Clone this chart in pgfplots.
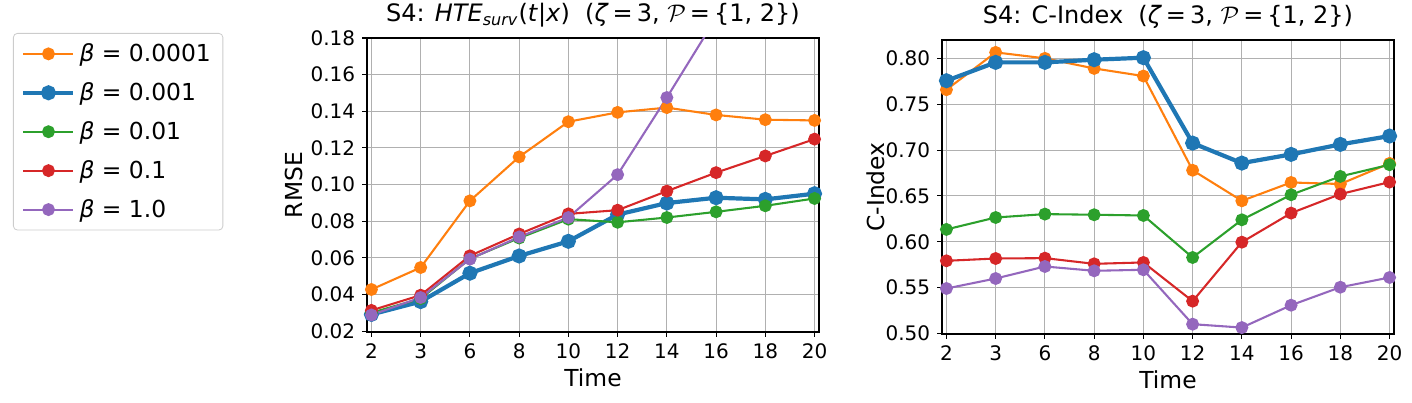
\documentclass[border=0pt]{standalone}
\usepackage{fontspec}
\setmainfont{DejaVu Sans}
\usepackage{pgfplots}
\pgfplotsset{compat=1.18}
\definecolor{cblue}{HTML}{1F77B4}
\definecolor{corange}{HTML}{FF7F0E}
\definecolor{cgreen}{HTML}{2CA02C}
\definecolor{cred}{HTML}{D62728}
\definecolor{cpurple}{HTML}{9467BD}
\definecolor{gridgray}{HTML}{B0B0B0}
\definecolor{legendgray}{HTML}{CCCCCC}
\pgfplotsset{
 mystyle/.style={
  width=226pt, height=147pt, scale only axis,
  xmin=-0.09, xmax=9.09,
  xtick={0,...,9}, xticklabels={2,3,6,8,10,12,14,16,18,20},
  grid=major, major grid style={color=gridgray, line width=0.55pt},
  axis line style={line width=0.55pt},
  tick align=outside, tick pos=left, major tick length=2.4pt,
  every tick/.style={black, line width=0.55pt},
  tick label style={font=\fontsize{10}{12}\selectfont},
  yticklabel style={/pgf/number format/.cd, fixed, fixed zerofill, precision=2, assume math mode=true},
  xticklabel style={/pgf/number format/assume math mode=true},
  label style={font=\fontsize{11.7}{14}\selectfont},
  title style={font=\fontsize{12}{14}\selectfont, inner sep=0pt, at={(axis description cs:0.5,1.014)}, anchor=base},
  xlabel=Time,
  xlabel style={at={(axis description cs:0.5,-0.155)}, anchor=center},
  every axis plot/.append style={line width=1.04pt, mark=*, mark size=2.7pt, mark options={solid}},
  legend image code/.code={\draw[mark repeat=2,mark phase=2] plot coordinates {(0pt,0pt) (12.5pt,0pt) (25pt,0pt)};},
 }
}
\begin{document}
\begin{tikzpicture}
\begin{axis}[mystyle, at={(0pt,0pt)}, anchor=south west,
  ymin=0.0195, ymax=0.18,
  ytick={0.02,0.04,0.06,0.08,0.10,0.12,0.14,0.16,0.18},
  ylabel=RMSE,
  ylabel style={at={(axis description cs:-0.1615,0.5)}, anchor=center},
  title={S4: \textit{HTE}\textsubscript{\textit{surv}}(\textit{t}|\textit{x})\ \ (\textit{ζ}\,=\,3, $\mathcal{P}$\,=\,\{1, 2\})},
  legend style={at={(-0.7832,1.017)}, anchor=north west, draw=legendgray, rounded corners=2pt,
    font=\fontsize{11.7}{14}\selectfont, row sep=5pt, inner xsep=4pt, inner ysep=3pt, cells={anchor=west}},
]
\addplot[color=corange] coordinates {(0,0.0427) (1,0.0547) (2,0.0911) (3,0.1151) (4,0.1343) (5,0.1394) (6,0.1420) (7,0.1380) (8,0.1354) (9,0.1350)};
\addlegendentry{\textit{β} = 0.0001}
\addplot[color=cblue, line width=2.1pt] coordinates {(0,0.0291) (1,0.0361) (2,0.0516) (3,0.0610) (4,0.0690) (5,0.0836) (6,0.0899) (7,0.0928) (8,0.0919) (9,0.0950)};
\addlegendentry{\textit{β} = 0.001}
\addplot[color=cgreen] coordinates {(0,0.0300) (1,0.0377) (2,0.0595) (3,0.0708) (4,0.0811) (5,0.0794) (6,0.0820) (7,0.0851) (8,0.0884) (9,0.0924)};
\addlegendentry{\textit{β} = 0.01}
\addplot[color=cred] coordinates {(0,0.0313) (1,0.0396) (2,0.0611) (3,0.0730) (4,0.0840) (5,0.0860) (6,0.0964) (7,0.1065) (8,0.1156) (9,0.1248)};
\addlegendentry{\textit{β} = 0.1}
\addplot[color=cpurple] coordinates {(0,0.0288) (1,0.0383) (2,0.0593) (3,0.0714) (4,0.0820) (5,0.1054) (6,0.1475) (7,0.1910) (8,0.2400) (9,0.2900)};
\addlegendentry{\textit{β} = 1.0}
\end{axis}
\begin{axis}[mystyle, at={(287.5pt,-1pt)}, anchor=south west,
  ymin=0.4995, ymax=0.82,
  ytick={0.50,0.55,0.60,0.65,0.70,0.75,0.80},
  ylabel=C-Index,
  ylabel style={at={(axis description cs:-0.146,0.5)}, anchor=center},
  title={S4: C-Index\ \ (\textit{ζ}\,=\,3, $\mathcal{P}$\,=\,\{1, 2\})},
]
\addplot[color=corange] coordinates {(0,0.7658) (1,0.8065) (2,0.8000) (3,0.7890) (4,0.7807) (5,0.6780) (6,0.6447) (7,0.6647) (8,0.6630) (9,0.6855)};
\addplot[color=cblue, line width=2.1pt] coordinates {(0,0.7756) (1,0.7956) (2,0.7956) (3,0.7985) (4,0.8007) (5,0.7076) (6,0.6858) (7,0.6953) (8,0.7062) (9,0.7153)};
\addplot[color=cgreen] coordinates {(0,0.6135) (1,0.6265) (2,0.6302) (3,0.6295) (4,0.6287) (5,0.5829) (6,0.6240) (7,0.6513) (8,0.6713) (9,0.6840)};
\addplot[color=cred] coordinates {(0,0.5793) (1,0.5818) (2,0.5822) (3,0.5760) (4,0.5775) (5,0.5353) (6,0.5996) (7,0.6313) (8,0.6520) (9,0.6651)};
\addplot[color=cpurple] coordinates {(0,0.5491) (1,0.5600) (2,0.5731) (3,0.5684) (4,0.5695) (5,0.5102) (6,0.5065) (7,0.5309) (8,0.5505) (9,0.5611)};
\end{axis}
\pgfresetboundingbox
\path (-183.5pt,-35pt) rectangle (522.5pt,166pt);
\end{tikzpicture}
\end{document}
